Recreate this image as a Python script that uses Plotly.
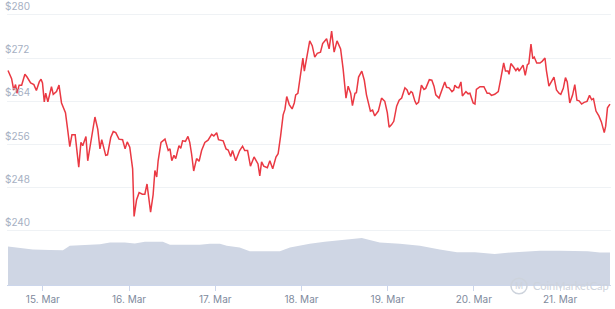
import pandas as pd
import plotly.graph_objects as go

BASE = "2021-03-15 00:00"

# price series: hours offset from 15 Mar 00:00, price in USD
price_hours = [
    -9.7, -8.7, -8.1, -7.6, -7.2, -6.6, -5.9, -5.0, -4.4, -3.4,
    -2.5, -1.8, -1.0, -0.5, -0.1, 0.4, 0.8, 1.4, 2.4, 2.9,
    3.8, 4.5, 5.2, 5.7, 6.3, 6.9, 7.5, 8.1, 9.0, 10.0,
    10.6, 11.1, 12.0, 12.5, 13.6, 14.5, 15.3, 15.9, 16.4, 17.5,
    18.0, 18.9, 19.6, 20.3, 21.2, 22.2, 22.9, 23.5, 24.2, 25.0,
    25.4, 26.1, 26.8, 27.7, 28.4, 29.0, 30.0, 30.7, 31.2, 31.7,
    32.1, 32.9, 34.0, 34.9, 35.4, 35.9, 36.5, 37.0, 37.9, 38.4,
    38.9, 39.7, 40.4, 40.9, 41.4, 42.0, 42.8, 43.5, 44.2, 45.1,
    46.0, 47.0, 47.6, 48.4, 48.9, 50.2, 51.0, 51.6, 52.3, 52.8,
    53.7, 54.8, 55.6, 56.2, 57.0, 57.8, 58.8, 59.5, 59.9, 60.4,
    60.9, 61.5, 62.5, 63.2, 64.0, 64.9, 65.5, 66.2, 66.9, 67.4,
    67.9, 68.6, 69.4, 70.0, 70.4, 71.0, 71.6, 72.0, 72.4, 72.8,
    73.4, 74.3, 75.0, 75.7, 76.4, 77.3, 77.9, 79.0, 79.7, 80.4,
    81.1, 81.9, 82.9, 83.6, 84.4, 85.0, 85.7, 86.2, 86.9, 87.3,
    87.9, 88.8, 89.5, 90.1, 91.2, 91.8, 92.4, 93.4, 94.3, 95.2,
    95.9, 96.4, 97.1, 97.7, 98.5, 99.2, 99.9, 100.8, 101.4, 101.9,
    102.5, 102.9, 103.6, 104.0, 104.6, 105.4, 106.1, 106.6, 107.6, 108.3,
    108.9, 109.4, 110.3, 111.0, 111.9, 112.4, 113.1, 113.9, 114.4, 114.7,
    115.2, 115.8, 116.4, 116.8, 117.8, 118.4, 118.9, 119.8, 120.3, 120.7,
    121.7, 122.8, 123.7, 124.3, 124.9, 125.8, 126.8, 127.5, 128.3, 128.8,
    129.5, 129.8, 130.3, 131.0, 131.7, 132.2, 132.6, 133.1, 133.7, 134.3,
    134.9, 135.3, 135.9, 136.4, 136.8, 137.5, 138.4, 139.0, 139.8, 140.2,
    140.9, 141.4, 142.3, 143.0, 143.7, 144.2, 144.9, 145.5, 146.0, 146.7,
    147.5, 148.1, 148.7, 149.3, 150.0, 150.7, 151.5, 152.2, 152.8, 153.3,
    154.0, 154.8, 155.5, 156.3, 156.7, 157.2, 157.9,
]
price_values = [
    269.7, 268.2, 266.1, 267.1, 265.5, 267.0, 267.0, 269.0, 268.5, 267.4,
    267.1, 266.0, 267.6, 268.1, 267.4, 263.9, 265.5, 263.9, 266.7, 265.3,
    265.8, 267.0, 263.7, 262.9, 261.9, 258.8, 255.6, 257.8, 257.8, 251.8,
    256.4, 255.8, 257.5, 253.0, 257.6, 261.1, 258.8, 255.2, 256.9, 254.0,
    254.1, 257.3, 258.4, 258.2, 257.0, 256.9, 255.2, 256.5, 255.5, 251.5,
    242.7, 245.8, 247.1, 246.8, 246.8, 248.7, 243.5, 246.7, 251.2, 250.0,
    253.0, 256.4, 257.0, 254.9, 255.2, 253.0, 254.0, 253.4, 255.8, 255.3,
    256.7, 256.6, 257.5, 256.4, 254.3, 251.1, 253.4, 252.9, 254.9, 256.4,
    256.8, 257.9, 257.6, 258.2, 256.9, 256.7, 255.2, 255.0, 253.8, 254.9,
    253.0, 254.9, 255.7, 254.9, 254.9, 252.0, 253.7, 252.8, 252.4, 250.2,
    252.8, 252.0, 251.7, 253.0, 251.5, 253.7, 254.3, 257.6, 261.5, 262.5,
    264.9, 263.4, 262.6, 263.7, 265.2, 265.5, 268.2, 269.7, 272.0, 269.6,
    271.9, 275.2, 274.3, 272.2, 272.9, 273.1, 274.7, 275.6, 273.7, 277.0,
    273.1, 275.2, 273.7, 270.0, 264.6, 266.8, 265.5, 263.2, 265.5, 265.6,
    268.5, 269.6, 267.9, 265.2, 262.2, 262.4, 261.3, 262.2, 264.6, 264.0,
    261.9, 259.2, 259.7, 260.3, 263.1, 264.2, 264.6, 266.5, 266.1, 265.2,
    265.8, 265.6, 264.0, 263.5, 263.8, 267.0, 266.2, 266.4, 268.0, 267.9,
    266.8, 265.2, 264.6, 266.1, 267.6, 266.6, 266.5, 265.8, 266.1, 267.0,
    266.6, 266.5, 267.6, 265.0, 265.8, 265.4, 265.5, 263.7, 263.5, 266.2,
    266.7, 266.7, 265.5, 265.5, 265.1, 265.3, 265.8, 268.2, 271.1, 269.6,
    269.6, 269.0, 271.0, 270.4, 269.7, 270.2, 269.6, 270.1, 270.7, 268.8,
    270.8, 271.0, 274.6, 271.9, 272.2, 271.1, 271.1, 271.4, 272.0, 269.7,
    266.8, 267.4, 268.5, 266.1, 265.5, 265.3, 266.4, 268.4, 267.6, 263.7,
    265.2, 267.1, 264.2, 264.1, 263.5, 263.8, 264.0, 265.1, 264.3, 264.5,
    262.2, 261.3, 260.2, 258.2, 259.4, 262.8, 263.5,
]

# volume series (USD billions)
volume_hours = [
    -9.7, -6.4, -2.8, 1.9, 5.6, 7.5, 11.7, 15.9, 18.7, 22.8,
    25.6, 28.4, 33.4, 35.4, 43.7, 46.5, 49.3, 51.2, 54.8, 57.6,
    61.8, 66.0, 68.8, 71.5, 74.3, 78.5, 82.7, 86.9, 88.8, 91.0,
    93.8, 99.4, 105.0, 110.5, 115.3, 120.3, 125.8, 130.3, 135.0, 138.4,
    143.9, 151.7, 155.1, 157.9,
]
volume_values = [
    1.40, 1.36, 1.29, 1.27, 1.26, 1.43, 1.45, 1.48, 1.55, 1.55,
    1.51, 1.57, 1.57, 1.46, 1.46, 1.50, 1.50, 1.43, 1.36, 1.23,
    1.23, 1.23, 1.36, 1.43, 1.50, 1.57, 1.63, 1.68, 1.71, 1.64,
    1.55, 1.50, 1.43, 1.29, 1.19, 1.19, 1.13, 1.18, 1.23, 1.25,
    1.25, 1.23, 1.18, 1.18,
]

price_ticks = [240, 248, 256, 264, 272, 280]
price_tick_labels = ["$240", "$248", "$256", "$264", "$272", "$280"]

base = pd.Timestamp(BASE)
px_time = [base + pd.Timedelta(hours=h) for h in price_hours]
vol_time = [base + pd.Timedelta(hours=h) for h in volume_hours]

fig = go.Figure()
fig.add_trace(go.Scatter(
    x=vol_time, y=volume_values, yaxis="y2", mode="lines",
    line=dict(color="#cfd6e4", width=0), fill="tozeroy",
    fillcolor="#cfd6e4", hoverinfo="skip", showlegend=False,
))
fig.add_trace(go.Scatter(
    x=px_time, y=price_values, mode="lines",
    line=dict(color="#ea3943", width=1.5), showlegend=False,
))

x_start = base + pd.Timedelta(hours=-9.98)
x_end = base + pd.Timedelta(hours=158.18)

fig.update_layout(
    width=615, height=309,
    margin=dict(l=7, r=4, t=10, b=19),
    paper_bgcolor="white", plot_bgcolor="white",
    font=dict(family="Inter, Lato, sans-serif", size=10, color="#808a9d"),
    xaxis=dict(
        type="date", range=[x_start, x_end],
        tick0=base, dtick=86400000, tickformat="%-d. %b",
        showgrid=False, showline=True, linecolor="#ccd6eb", linewidth=1,
        ticks="outside", ticklen=5, tickcolor="#ccd6eb",
        tickfont=dict(size=10, color="#808a9d"), zeroline=False,
    ),
    yaxis=dict(
        range=[230, 280.909], tickvals=price_ticks, showticklabels=False,
        showgrid=True, gridcolor="#eff2f5", gridwidth=1, zeroline=False,
    ),
    yaxis2=dict(
        range=[0, 10], overlaying="y", visible=False, showgrid=False,
    ),
)

for v, lab in zip(price_ticks, price_tick_labels):
    fig.add_annotation(
        xref="paper", yref="y", x=-4 / 604, y=v, text=lab,
        showarrow=False, xanchor="left", yanchor="bottom", yshift=1,
        font=dict(size=10, color="#a6b0c3"),
    )

# watermark
fig.add_shape(
    type="circle", xref="paper", yref="paper",
    x0=(511 - 7) / 604, x1=(527 - 7) / 604,
    y0=(299 - 308) / 280, y1=(299 - 292) / 280,
    line=dict(color="#cdd3dc", width=1.5),
)
fig.add_annotation(
    xref="paper", yref="paper", x=(519 - 7) / 604, y=(299 - 300) / 280,
    text="M", showarrow=False, xanchor="center", yanchor="middle",
    font=dict(size=9, color="#cdd3dc"),
)
fig.add_annotation(
    xref="paper", yref="paper", x=(531 - 7) / 604, y=(299 - 300) / 280,
    text="CoinMarketCap", showarrow=False, xanchor="left", yanchor="middle",
    font=dict(family="Lato, sans-serif", size=11, color="#cdd3dc"),
)

fig.write_html("out.html")
